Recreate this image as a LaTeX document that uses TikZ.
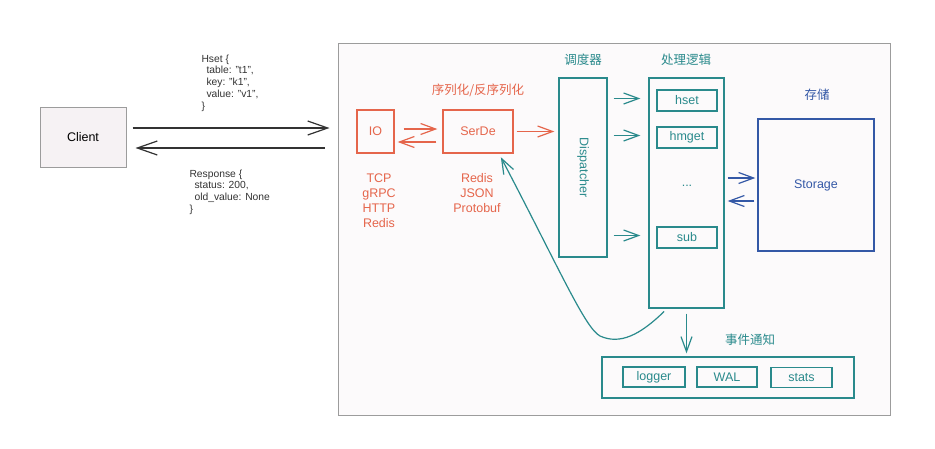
\documentclass[tikz,border=0pt]{standalone}
\usepackage{fontspec}
\setmainfont{Liberation Sans}
\newfontfamily\cjk{Noto Sans CJK SC}
\usetikzlibrary{arrows.meta}
\definecolor{serred}{HTML}{E5654B}
\definecolor{logteal}{HTML}{2A8A8C}
\definecolor{stoblue}{HTML}{3458A6}
\definecolor{edgegray}{HTML}{9C9C9C}
\definecolor{paper}{HTML}{FCFAFB}
\definecolor{clientfill}{HTML}{F6F2F4}
\definecolor{msgtext}{HTML}{333333}
\tikzset{
  box/.style={draw,rectangle,inner sep=0pt,line width=1.3pt,fill=paper},
  flow/.style={-{Straight Barb[length=15pt,width=11pt]},line width=1.2pt},
  bigflow/.style={-{Straight Barb[length=20pt,width=14pt]},line width=1.2pt},
  msg/.style={anchor=north west,align=left,text=msgtext,font=\fontsize{10.3}{11.8}\selectfont},
  txt/.style={font=\fontsize{12.5}{15}\selectfont},
  cjklabel/.style={font=\cjk\fontsize{12.5}{14}\selectfont},
}
\begin{document}
\begin{tikzpicture}[x=1pt,y=-1pt]
\useasboundingbox (0,0) rectangle (935,448);
\fill[white] (0,0) rectangle (935,448);
% server side container
\node[box,draw=edgegray,line width=1pt,minimum width=552,minimum height=372] (server) at (614,229) {};
% client and request / response
\node[box,draw=edgegray,line width=1pt,fill=clientfill,minimum width=86,minimum height=60,txt] (client) at (83,137.5) {Client};
\draw[bigflow,msgtext,shorten <=6,shorten >=8] ([yshift=9.5pt]client.east) -- ([yshift=9.5pt]client.east -| server.west);
\draw[bigflow,msgtext,shorten <=13,shorten >=9] ([yshift=-10.5pt]client.east -| server.west) -- ([yshift=-10.5pt]client.east);
\node[msg] (req) at (198,51) {Hset \{\\\hspace{5pt}table: "t1",\\\hspace{5pt}key: "k1",\\\hspace{5pt}value: "v1",\\\}};
\node[msg] (resp) at (186,166) {Response \{\\\hspace{5pt}status: 200,\\\hspace{5pt}old\_value: None\\\}};
% io and serde
\begin{scope}[serred]
\node[box,minimum width=37,minimum height=43,txt] (io) at (375.5,131.5) {IO};
\node[box,minimum width=70,minimum height=43,txt] (serde) at (478,131.5) {SerDe};
\node[cjklabel] (serdelabel) at (478,90) {序列化/反序列化};
\node[txt,align=center,anchor=north] (protocols) at (379,170) {TCP\\gRPC\\HTTP\\Redis};
\node[txt,align=center,anchor=north] (formats) at (477,170) {Redis\\JSON\\Protobuf};
\draw[flow,shorten <=9,shorten >=5] ([yshift=2.5pt]io.east) -- ([yshift=2.5pt]io.east -| serde.west);
\draw[flow,shorten <=6,shorten >=3] ([yshift=-10.5pt]io.east -| serde.west) -- ([yshift=-10.5pt]io.east);
\end{scope}
% dispatcher and handlers
\begin{scope}[logteal]
\node[box,minimum width=48,minimum height=179] (disp) at (583,167.5) {};
\node[txt,rotate=-90] (displabel) at (disp.center) {Dispatcher};
\node[cjklabel] (displabeltop) at (583,60) {调度器};
\node[box,minimum width=75,minimum height=230] (handler) at (686.5,193) {};
\node[cjklabel] (handlerlabel) at (686,60) {处理逻辑};
\node[box,minimum width=60,minimum height=21,txt] (hset) at (687,100.5) {hset};
\node[box,minimum width=60,minimum height=21,txt] (hmget) at (687,137.5) {hmget};
\node[txt] (more) at (687,186) {...};
\node[box,minimum width=60,minimum height=21,txt] (sub) at (687,237.5) {sub};
\foreach \h in {hset,hmget,sub}
  \draw[flow,shorten <=6,shorten >=8] ([yshift=2pt]\h.west -| disp.east) -- ([yshift=2pt]\h.west -| handler.west);
\draw[flow,serred,shorten <=3,shorten >=4] (serde.east) -- (serde.east -| disp.west);
% events
\node[box,minimum width=252,minimum height=41] (events) at (728,377.5) {};
\node[cjklabel] (eventslabel) at (750,340) {事件通知};
\node[box,minimum width=62,minimum height=20,txt] (logger) at (654,377) {logger};
\node[box,minimum width=60,minimum height=20,txt] (wal) at (727,377) {WAL};
\node[box,minimum width=61,minimum height=20,txt] (stats) at (801.5,377.5) {stats};
\draw[flow,shorten <=5,shorten >=3] (handler.south) -- (handler.south |- events.north);
\draw[flow,shorten <=4,shorten >=4] ([xshift=-19.5pt]handler.south) .. controls (640,335) and (620,345) .. (600,336) .. controls (585,328) and (560,270) .. ([xshift=21pt]serde.south);
\end{scope}
% storage
\begin{scope}[stoblue]
\node[box,minimum width=116,minimum height=132,txt] (storage) at (816,185) {Storage};
\node[cjklabel] (storagelabel) at (817,95) {存储};
\coordinate (s1) at ([yshift=7pt]storage.west);
\coordinate (s2) at ([yshift=-16pt]storage.west);
\draw[flow,shorten <=3,shorten >=2] (s1 -| handler.east) -- (s1);
\draw[flow,shorten <=3,shorten >=3] (s2) -- (s2 -| handler.east);
\end{scope}
\end{tikzpicture}
\end{document}
